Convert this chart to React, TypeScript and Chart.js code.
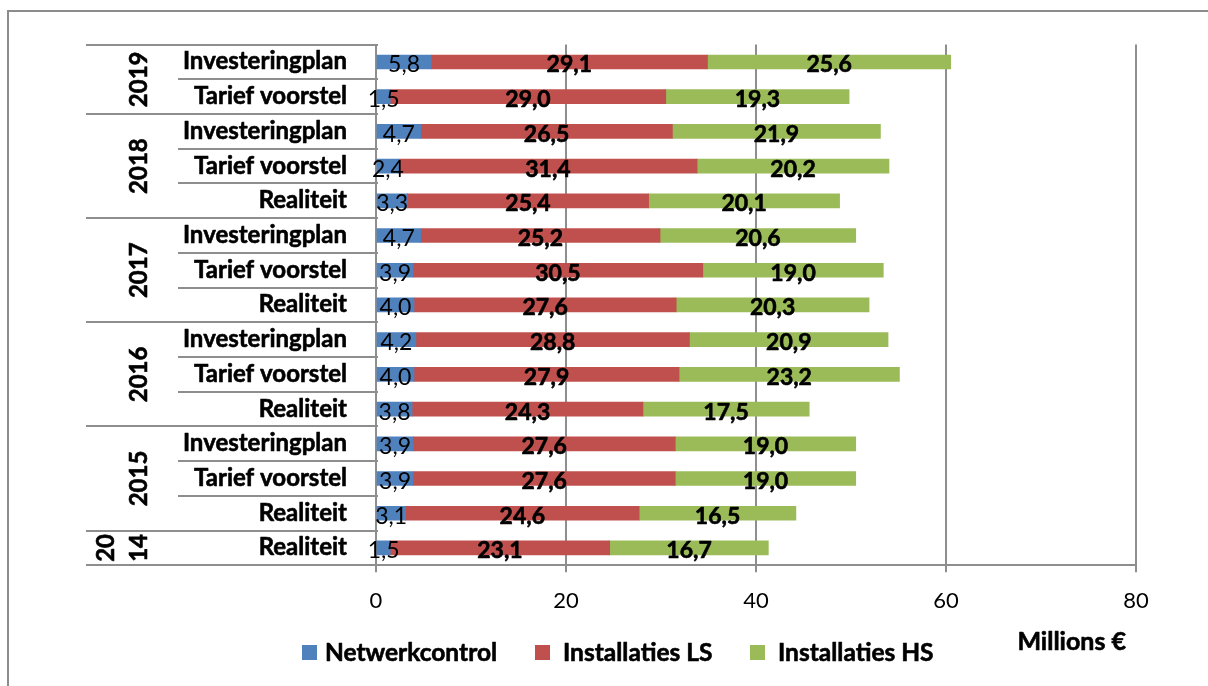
import React, { useEffect, useRef } from "react";
import { Chart, registerables } from "chart.js";

Chart.register(...registerables);

// ---- data (top row first) ----
const categories = [
  "Investeringplan", "Tarief voorstel",
  "Investeringplan", "Tarief voorstel", "Realiteit",
  "Investeringplan", "Tarief voorstel", "Realiteit",
  "Investeringplan", "Tarief voorstel", "Realiteit",
  "Investeringplan", "Tarief voorstel", "Realiteit",
  "Realiteit",
];
const years = ["2019", "2018", "2017", "2016", "2015", "2014"];
const yearRowCounts = [2, 3, 3, 3, 3, 1];
const netwerkcontrol = [5.8, 1.5, 4.7, 2.4, 3.3, 4.7, 3.9, 4.0, 4.2, 4.0, 3.8, 3.9, 3.9, 3.1, 1.5];
const installatiesLS = [29.1, 29.0, 26.5, 31.4, 25.4, 25.2, 30.5, 27.6, 28.8, 27.9, 24.3, 27.6, 27.6, 24.6, 23.1];
const installatiesHS = [25.6, 19.3, 21.9, 20.2, 20.1, 20.6, 19.0, 20.3, 20.9, 23.2, 17.5, 19.0, 19.0, 16.5, 16.7];
const xMin = 0;
const xMax = 80;
const xStep = 20;
const seriesNames = ["Netwerkcontrol", "Installaties LS", "Installaties HS"];
const seriesColors = ["#4F81BD", "#C0504D", "#9BBB59"];
const unitLabel = "Millions €";

const W = 1208;
const H = 686;
const FONT = "Lato";
const GRID = "#8e8e8e";

const fmt = (v: number) => v.toFixed(1).replace(".", ",");

function boldText(ctx: CanvasRenderingContext2D, t: string, x: number, y: number) {
  ctx.fillText(t, x, y);
  ctx.strokeText(t, x, y);
}

const overlay = {
  id: "overlay",
  afterDraw(chart: any) {
    const ctx: CanvasRenderingContext2D = chart.ctx;
    const ys = chart.scales.y;
    const area = chart.chartArea;
    const n = categories.length;
    ctx.save();

    // outer frame
    ctx.strokeStyle = "#8c8c8c";
    ctx.lineWidth = 2;
    ctx.beginPath();
    ctx.moveTo(8, H + 5);
    ctx.lineTo(8, 11);
    ctx.lineTo(W + 5, 11);
    ctx.stroke();

    // category axis separators
    const groupEdges = new Set<number>();
    let acc = 0;
    groupEdges.add(0);
    yearRowCounts.forEach((c) => {
      acc += c;
      groupEdges.add(acc);
    });
    ctx.strokeStyle = GRID;
    ctx.lineWidth = 2;
    for (let k = 0; k <= n; k++) {
      const yy = Math.round(ys.getPixelForValue(k - 0.5));
      const x0 = groupEdges.has(k) ? 86 : 178;
      ctx.beginPath();
      ctx.moveTo(x0, yy);
      ctx.lineTo(area.left + 2, yy);
      ctx.stroke();
    }

    ctx.fillStyle = "#000";
    ctx.strokeStyle = "#000";
    ctx.lineWidth = 0.6;
    ctx.lineJoin = "round";

    // category labels
    ctx.font = `bold 24px ${FONT}`;
    ctx.textAlign = "right";
    ctx.textBaseline = "alphabetic";
    categories.forEach((c, i) => {
      const cy = ys.getPixelForValue(i);
      boldText(ctx, c, 347, cy + 7.5);
    });

    // year labels (rotated)
    ctx.textAlign = "center";
    let start = 0;
    years.forEach((yr, gi) => {
      const cnt = yearRowCounts[gi];
      const yTop = ys.getPixelForValue(start - 0.5);
      const yBot = ys.getPixelForValue(start + cnt - 0.5);
      const cy = (yTop + yBot) / 2;
      const lines = cnt < 2 ? [yr.slice(0, 2), yr.slice(2)] : [yr];
      lines.forEach((ln, li) => {
        const cx = 138 - (lines.length - 1 - li) * 33;
        ctx.save();
        ctx.translate(cx + 8.5, cy);
        ctx.rotate(-Math.PI / 2);
        boldText(ctx, ln, 0, 0);
        ctx.restore();
      });
      start += cnt;
    });

    // data labels
    ctx.textAlign = "center";
    chart.data.datasets.forEach((ds: any, di: number) => {
      const meta = chart.getDatasetMeta(di);
      ctx.font = `${di === 0 ? "normal" : "bold"} 23px ${FONT}`;
      meta.data.forEach((bar: any, j: number) => {
        const cx = (bar.x + bar.base) / 2;
        if (di === 0) ctx.fillText(fmt(ds.data[j]), cx, bar.y + 10.5);
        else boldText(ctx, fmt(ds.data[j]), cx, bar.y + 10.5);
      });
    });

    // legend
    const legBoxX = [302, 535, 750];
    const legTextX = [325, 563, 778];
    const legY = 652.5;
    ctx.font = `bold 24.5px ${FONT}`;
    ctx.textAlign = "left";
    seriesNames.forEach((name, i) => {
      ctx.fillStyle = seriesColors[i];
      ctx.fillRect(legBoxX[i], legY - 7.5, 15, 15);
      ctx.fillStyle = "#000";
      boldText(ctx, name, legTextX[i], legY + 8.5);
    });

    // unit label
    ctx.font = `bold 25px ${FONT}`;
    ctx.textAlign = "right";
    boldText(ctx, unitLabel, 1126, 641.5 + 8.5);

    ctx.restore();
  },
};

export default function App() {
  const ref = useRef<HTMLCanvasElement | null>(null);

  useEffect(() => {
    if (!ref.current) return;
    const chart = new Chart(ref.current, {
      type: "bar",
      data: {
        labels: categories,
        datasets: [
          { label: seriesNames[0], data: netwerkcontrol, backgroundColor: seriesColors[0] },
          { label: seriesNames[1], data: installatiesLS, backgroundColor: seriesColors[1] },
          { label: seriesNames[2], data: installatiesHS, backgroundColor: seriesColors[2] },
        ],
      },
      options: {
        indexAxis: "y",
        responsive: false,
        animation: false,
        devicePixelRatio: 1,
        barThickness: 14,
        layout: { padding: { left: 376, right: 72, top: 44.6, bottom: 0 } },
        plugins: { legend: { display: false }, tooltip: { enabled: false } },
        scales: {
          y: { display: false, stacked: true },
          x: {
            stacked: true,
            min: xMin,
            max: xMax,
            afterFit: (scale: any) => {
              scale.height = H - 565.3;
            },
            ticks: {
              stepSize: xStep,
              color: "#000",
              font: { family: FONT, size: 22 },
              padding: 15,
            },
            grid: { color: GRID, lineWidth: 2, tickLength: 7, drawTicks: true },
            border: { display: true, color: GRID, width: 2 },
          },
        },
      } as any,
      plugins: [overlay],
    });
    return () => chart.destroy();
  }, []);

  return (
    <div style={{ position: "fixed", left: 0, top: 0, width: W, height: H, background: "#fff" }}>
      <canvas ref={ref} width={W} height={H} style={{ display: "block" }} />
    </div>
  );
}
